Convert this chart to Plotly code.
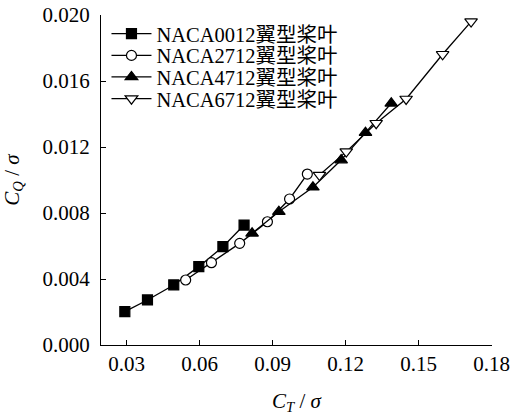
import plotly.graph_objects as go

# Thrust coefficient (C_T/sigma) and torque coefficient (C_Q/sigma) per airfoil blade
naca0012_ct = [0.0293, 0.0386, 0.0494, 0.0597, 0.0696, 0.0783]
naca0012_cq = [0.00202, 0.00273, 0.00364, 0.00475, 0.00596, 0.00727]

naca2712_ct = [0.0543, 0.0649, 0.0765, 0.0879, 0.0970, 0.1043]
naca2712_cq = [0.00394, 0.00499, 0.00616, 0.00747, 0.00885, 0.01036]

naca4712_ct = [0.0816, 0.0926, 0.1066, 0.1182, 0.1282, 0.1388]
naca4712_cq = [0.00677, 0.00808, 0.00956, 0.01121, 0.01287, 0.01465]

naca6712_ct = [0.1093, 0.1203, 0.1326, 0.1449, 0.1599, 0.1716]
naca6712_cq = [0.01030, 0.01172, 0.01344, 0.01491, 0.01762, 0.01960]

series_names = ["NACA0012翼型桨叶", "NACA2712翼型桨叶", "NACA4712翼型桨叶", "NACA6712翼型桨叶"]

x_ticks = [0.03, 0.06, 0.09, 0.12, 0.15, 0.18]
y_ticks = [0.000, 0.004, 0.008, 0.012, 0.016, 0.020]

FONT = "Liberation Serif, Times New Roman, Noto Sans CJK SC, serif"

styles = [
    dict(symbol="square", size=10, color="black"),
    dict(symbol="circle-open", size=10, color="black"),
    dict(symbol="triangle-up", size=11, color="black"),
    dict(symbol="triangle-down-open", size=11, color="black"),
]
data = [
    (naca0012_ct, naca0012_cq),
    (naca2712_ct, naca2712_cq),
    (naca4712_ct, naca4712_cq),
    (naca6712_ct, naca6712_cq),
]
legend_ids = ["legend", "legend2", "legend3", "legend4"]

fig = go.Figure()
for (xs, ys), name, st, lg in zip(data, series_names, styles, legend_ids):
    open_marker = st["symbol"].endswith("open")
    fig.add_trace(go.Scatter(
        x=xs, y=ys, name=name, mode="lines+markers",
        line=dict(color="black", width=1.3),
        marker=dict(symbol=st["symbol"].replace("-open", ""), size=st["size"],
                    color="white" if open_marker else "black",
                    line=dict(color="black", width=1.2)),
        cliponaxis=False,
        legend=lg,
    ))

axis_common = dict(
    showline=True, linecolor="black", linewidth=1.3, mirror=False,
    ticks="inside", ticklen=5, tickwidth=1.2, tickcolor="black",
    showgrid=False, zeroline=False, automargin=False,
    tickfont=dict(family=FONT, size=21, color="black"),
)

# one single-entry legend per series, stacked in the upper-left corner
legend_rows = [0.943, 0.877, 0.812, 0.746]
legend_layout = {}
for lg, yv in zip(legend_ids, legend_rows):
    legend_layout[lg] = dict(
        x=0.014, xanchor="left", y=yv, yanchor="middle",
        bgcolor="rgba(0,0,0,0)", borderwidth=0,
        font=dict(family=FONT, size=20.5, color="black"),
        itemwidth=40,
    )

fig.update_layout(
    width=510, height=415,
    margin=dict(l=101, r=18, t=15, b=70, autoexpand=False),
    paper_bgcolor="white", plot_bgcolor="white",
    showlegend=True,
    xaxis=dict(
        range=[0.0195, 0.1802], tickvals=x_ticks, tickformat=".2f",
        title=dict(text="<i>C</i><sub><i>T</i></sub> / <i>σ</i>",
                   font=dict(family=FONT, size=21, color="black"), standoff=18),
        **axis_common,
    ),
    yaxis=dict(
        range=[0, 0.020], tickvals=y_ticks, tickformat=".3f",
        ticklabelstandoff=6,
        title=dict(text="<i>C</i><sub><i>Q</i></sub> / <i>σ</i>",
                   font=dict(family=FONT, size=21, color="black"), standoff=18),
        **axis_common,
    ),
    **legend_layout,
)

fig.write_html("out.html")
